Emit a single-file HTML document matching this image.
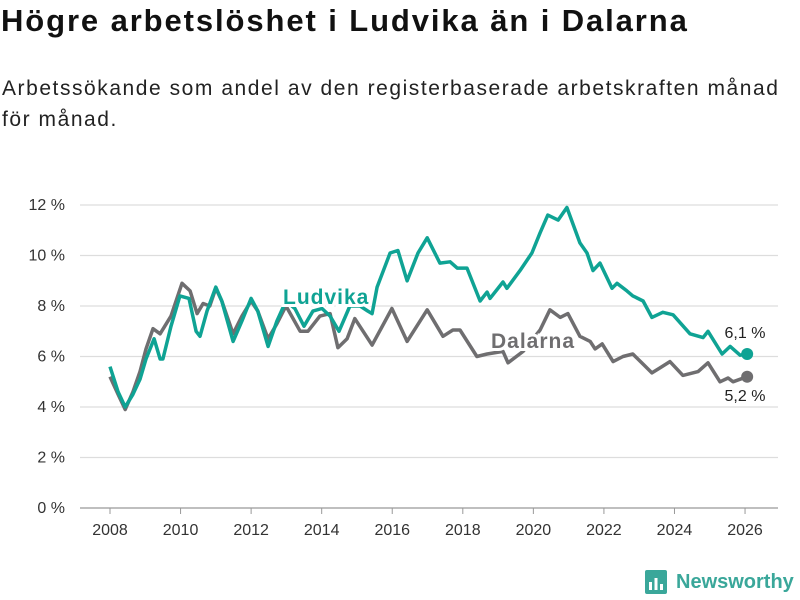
<!DOCTYPE html>
<html><head><meta charset="utf-8"><style>
body{margin:0;width:800px;height:600px;background:#fff;font-family:"Liberation Sans",sans-serif;overflow:hidden;position:relative}
h1{position:absolute;left:1px;top:3px;margin:0;font-size:31px;letter-spacing:1.9px;font-weight:bold;color:#111;white-space:nowrap}
p{position:absolute;left:2px;top:73px;margin:0;font-size:21px;letter-spacing:1.55px;line-height:31px;color:#222;width:798px;white-space:nowrap}
svg{position:absolute;left:0;top:0}
</style></head><body>
<h1>Högre arbetslöshet i Ludvika än i Dalarna</h1>
<p>Arbetssökande som andel av den registerbaserade arbetskraften månad<br>för månad.</p>
<svg id="c" width="800" height="600"></svg>
<script>
const yTicks=[0,2,4,6,8,10,12];
const xTicks=[2008,2010,2012,2014,2016,2018,2020,2022,2024,2026];
const ludYears=[2008.00,2008.23,2008.43,2008.65,2008.85,2009.02,2009.25,2009.42,2009.50,2009.73,2009.98,2010.24,2010.44,2010.55,2010.75,2011.00,2011.17,2011.49,2011.74,2012.00,2012.19,2012.48,2012.73,2012.99,2013.24,2013.50,2013.75,2014.01,2014.24,2014.49,2014.80,2015.09,2015.31,2015.43,2015.57,2015.94,2016.16,2016.42,2016.73,2016.99,2017.35,2017.64,2017.84,2018.12,2018.49,2018.69,2018.77,2019.14,2019.25,2019.62,2019.96,2020.19,2020.41,2020.70,2020.95,2021.32,2021.52,2021.69,2021.89,2022.23,2022.37,2022.65,2022.82,2023.11,2023.36,2023.67,2023.96,2024.44,2024.81,2024.95,2025.35,2025.58,2025.86,2026.06];
const ludValues=[5.6,4.6,4.0,4.5,5.1,5.9,6.7,5.9,5.9,7.2,8.4,8.3,7.0,6.8,7.8,8.75,8.2,6.6,7.4,8.3,7.8,6.4,7.4,8.2,7.9,7.2,7.8,7.9,7.6,7.0,8.0,8.0,7.8,7.7,8.75,10.1,10.2,9.0,10.1,10.7,9.7,9.75,9.5,9.5,8.2,8.55,8.3,8.95,8.7,9.4,10.1,10.9,11.6,11.4,11.9,10.5,10.1,9.4,9.7,8.7,8.9,8.6,8.4,8.2,7.55,7.75,7.65,6.9,6.75,7.0,6.1,6.4,6.05,6.1];
const dalYears=[2008.00,2008.23,2008.43,2008.65,2008.85,2009.02,2009.22,2009.42,2009.73,2010.04,2010.27,2010.47,2010.64,2010.83,2011.00,2011.17,2011.49,2011.74,2012.00,2012.19,2012.48,2012.73,2012.99,2013.39,2013.61,2013.95,2014.24,2014.46,2014.72,2014.94,2015.43,2015.99,2016.42,2016.99,2017.44,2017.72,2017.92,2018.40,2018.69,2019.14,2019.28,2019.71,2020.19,2020.47,2020.76,2020.98,2021.32,2021.61,2021.75,2021.95,2022.26,2022.54,2022.82,2023.11,2023.36,2023.59,2023.87,2024.24,2024.67,2024.95,2025.29,2025.52,2025.66,2026.06];
const dalValues=[5.2,4.5,3.9,4.6,5.4,6.3,7.1,6.9,7.6,8.9,8.6,7.7,8.1,8.0,8.7,8.2,6.9,7.6,8.2,7.8,6.7,7.3,8.0,7.0,7.0,7.6,7.7,6.35,6.7,7.5,6.45,7.9,6.6,7.85,6.8,7.05,7.05,6.0,6.1,6.2,5.75,6.2,7.05,7.85,7.55,7.7,6.8,6.6,6.3,6.5,5.8,6.0,6.1,5.7,5.35,5.55,5.8,5.25,5.4,5.75,5.0,5.15,5.0,5.2];
const NS='http://www.w3.org/2000/svg',svg=document.getElementById('c');
const X=y=>110+(y-2008)*35.28, Y=v=>508-v*25.25;
function mk(t,a,p){const e=document.createElementNS(NS,t);for(const k in a)e.setAttribute(k,a[k]);(p||svg).appendChild(e);return e;}
yTicks.forEach(v=>{
 const l=mk('line',{x1:80,x2:778,y1:Y(v),y2:Y(v),stroke:v===0?'#999':'#ddd','stroke-width':1.2});
 
 
 const t=mk('text',{x:65,y:Y(v)+5,'text-anchor':'end','font-size':16,fill:'#333'});t.textContent=v+' %';
 
 
});
xTicks.forEach(yr=>{
 const l=mk('line',{x1:X(yr),x2:X(yr),y1:508,y2:514,stroke:'#999'});
 
 
 const t=mk('text',{x:X(yr),y:535,'text-anchor':'middle','font-size':16,fill:'#333'});t.textContent=yr;
 
 
});
function line(ys,vs,col,name){
 const d=ys.map((y,i)=>(i?'L':'M')+X(y).toFixed(1)+','+Y(vs[i]).toFixed(1)).join('');
 const p=mk('path',{d:d,fill:'none',stroke:col,'stroke-width':3.5,'stroke-linejoin':'round'});
 
 
 const c=mk('circle',{cx:X(ys[ys.length-1]),cy:Y(vs[vs.length-1]),r:6,fill:col});
 
 
}
line(dalYears,dalValues,'#6f6e70','dalarna-line');
line(ludYears,ludValues,'#0fa394','ludvika-line');
function lab(x,y,txt,col,sz,w,name,anchor,ls){
 const t=mk('text',{x:x,y:y,'font-size':sz,'font-weight':w,fill:col,stroke:'#fff','stroke-width':w==='bold'?6:4,'paint-order':'stroke','text-anchor':anchor||'start','letter-spacing':ls||0});t.textContent=txt;
 
 
}
lab(283,304,'Ludvika','#0fa394',21,'bold','ludvika-label','start',1);
lab(491,348,'Dalarna','#6f6e70',21,'bold','dalarna-label','start',1);
lab(745,338,'6,1 %','#222',16,'normal','ludvika-end-value','middle');
lab(745,401,'5,2 %','#222',16,'normal','dalarna-end-value','middle');
</script>
<div style="position:absolute;left:645px;top:570px;display:flex;align-items:center">
<svg width="24" height="24" style="position:static"><rect x="0" y="0" width="22" height="24" rx="2" fill="#3aa79a"/><rect x="4" y="12" width="3" height="8" fill="#fff"/><rect x="9.5" y="8" width="3" height="12" fill="#fff"/><rect x="15" y="14" width="3" height="6" fill="#fff"/></svg>
<span style="font-size:20px;font-weight:bold;color:#3aa79a;margin-left:7px">Newsworthy</span></div>
</body></html>
